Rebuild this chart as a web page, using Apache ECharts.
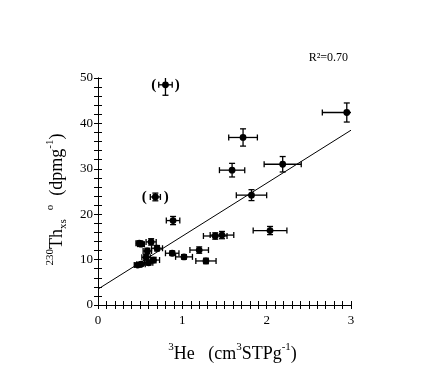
<!DOCTYPE html>
<html>
<head>
<meta charset="utf-8">
<script src="https://cdn.jsdelivr.net/npm/echarts@6/dist/echarts.min.js"></script>
<style>html,body{margin:0;padding:0;background:#fff}#c{width:425px;height:389px}</style>
</head>
<body>
<div id="c"></div>
<script>
// 3He (cm3 STP g-1)
var heValues = [0.80, 2.95, 1.72, 2.19, 1.59, 1.82, 2.04, 1.39, 1.47, 0.89, 0.68, 0.47, 0.51, 0.60, 0.66, 0.57, 0.585, 0.70, 0.63, 0.49, 0.51, 0.88, 1.02, 1.20, 1.28];
// 230Th_xs0 (dpm g-1)
var thValues = [48.5, 42.4, 36.9, 31.0, 29.7, 24.2, 16.4, 15.2, 15.4, 18.6, 23.8, 8.8, 9.0, 9.3, 9.9, 10.5, 11.9, 12.5, 13.9, 13.6, 13.4, 11.4, 10.6, 12.1, 9.7];
var heErrors = [0.08, 0.29, 0.17, 0.22, 0.15, 0.18, 0.20, 0.14, 0.14, 0.08, 0.06, 0.04, 0.05, 0.05, 0.07, 0.05, 0.05, 0.065, 0.06, 0.04, 0.04, 0.08, 0.10, 0.11, 0.12];
var thErrors = [2.3, 2.1, 1.9, 1.7, 1.5, 1.2, 0.9, 0.7, 0.8, 0.9, 0.85, 0.4, 0.4, 0.5, 0.6, 0.6, 0.6, 0.6, 0.7, 0.5, 0.5, 0.5, 0.5, 0.7, 0.6];
var excluded = [1, 0, 0, 0, 0, 0, 0, 0, 0, 0, 1, 0, 0, 0, 0, 0, 0, 0, 0, 0, 0, 0, 0, 0, 0];
// regression line end points
var fitX = [0, 3];
var fitY = [3.5, 38.5];
var xTicks = [0, 1, 2, 3];
var yTicks = [0, 10, 20, 30, 40, 50];
var r2Label = 'R²=0.70';

var FONT = '"Liberation Serif", "DejaVu Serif", serif';
var pts = heValues.map(function (x, i) {
  return [x, thValues[i], heErrors[i], thErrors[i], excluded[i]];
});
var fitData = fitX.map(function (x, i) { return [x, fitY[i]]; });

var chart = echarts.init(document.getElementById('c'));
var axisLine = {show: true, lineStyle: {color: '#000', width: 1}};
var tick = {show: true, inside: false, length: 4, lineStyle: {color: '#000'}};
var minorTick = {show: true, length: 4, lineStyle: {color: '#000'}};
var lbl = {color: '#000', fontFamily: FONT, fontSize: 13};
var sup = {fontSize: 11, fontFamily: FONT, color: '#000', verticalAlign: 'top', lineHeight: 24};
var sub = {fontSize: 11, fontFamily: FONT, color: '#000', verticalAlign: 'bottom', lineHeight: 24};
var base = {fontSize: 18, fontFamily: FONT, color: '#000', lineHeight: 24};

chart.setOption({
  animation: false,
  backgroundColor: '#fff',
  grid: {left: 98, right: 74, top: 78, bottom: 84},
  xAxis: [{
    type: 'value', min: 0, max: 3, interval: 1, position: 'bottom',
    axisLine: axisLine, axisTick: tick, minorTick: Object.assign({splitNumber: 10}, minorTick),
    splitLine: {show: false},
    axisLabel: Object.assign({margin: 9, formatter: function (v) { return xTicks.indexOf(v) >= 0 ? String(v) : ''; }}, lbl),
    name: '{s|3}{b|He   (cm}{s|3}{b|STPg}{s|-1}{b|)}',
    nameLocation: 'middle', nameGap: 37,
    nameTextStyle: {rich: {s: sup, b: base}, padding: [0, 0, 0, 16]}
  }, {
    type: 'value', min: 0, max: 3, interval: 1, position: 'top',
    axisLine: axisLine, axisTick: tick, minorTick: Object.assign({splitNumber: 10}, minorTick),
    splitLine: {show: false}, axisLabel: {show: false}
  }],
  yAxis: [{
    type: 'value', min: 0, max: 50, interval: 10, position: 'left',
    axisLine: axisLine, axisTick: tick, minorTick: Object.assign({splitNumber: 5}, minorTick),
    splitLine: {show: false},
    axisLabel: Object.assign({margin: 5, formatter: function (v) { return yTicks.indexOf(v) >= 0 ? String(v) : ''; }}, lbl),
    name: '{s|230}{b|Th}{u|xs}{b|  }{s|o}{b|  (dpmg}{s|-1}{b|)}',
    nameLocation: 'middle', nameGap: 27,
    nameTextStyle: {rich: {s: sup, u: sub, b: base}, padding: [0, 0, 0, -16]}
  }, {
    type: 'value', min: 0, max: 50, interval: 10, position: 'right',
    axisLine: axisLine, axisTick: tick, minorTick: Object.assign({splitNumber: 5}, minorTick),
    splitLine: {show: false}, axisLabel: {show: false}
  }],
  graphic: [{
    type: 'text', right: 77, top: 52,
    style: {text: r2Label, font: '12px ' + FONT, fill: '#000'}
  }],
  series: [{
    type: 'line', data: fitData, symbol: 'none', silent: true,
    lineStyle: {color: '#000', width: 1}, xAxisIndex: 0, yAxisIndex: 0
  }, {
    type: 'custom', data: pts, clip: true, xAxisIndex: 0, yAxisIndex: 0,
    renderItem: function (params, api) {
      var x = api.value(0), y = api.value(1), ex = api.value(2), ey = api.value(3), br = api.value(4);
      var c = api.coord([x, y]);
      var l = api.coord([x - ex, y]), r = api.coord([x + ex, y]);
      var t = api.coord([x, y + ey]), b = api.coord([x, y - ey]);
      var st = {stroke: '#000', lineWidth: 1.3};
      var cap = 3;
      var kids = [
        {type: 'line', shape: {x1: l[0], y1: c[1], x2: r[0], y2: c[1]}, style: st},
        {type: 'line', shape: {x1: l[0], y1: c[1] - cap, x2: l[0], y2: c[1] + cap}, style: st},
        {type: 'line', shape: {x1: r[0], y1: c[1] - cap, x2: r[0], y2: c[1] + cap}, style: st},
        {type: 'line', shape: {x1: c[0], y1: t[1], x2: c[0], y2: b[1]}, style: st},
        {type: 'line', shape: {x1: c[0] - cap, y1: t[1], x2: c[0] + cap, y2: t[1]}, style: st},
        {type: 'line', shape: {x1: c[0] - cap, y1: b[1], x2: c[0] + cap, y2: b[1]}, style: st},
        {type: 'circle', shape: {cx: c[0], cy: c[1], r: 3.4}, style: {fill: '#000'}}
      ];
      if (br) {
        var dx = Math.max(r[0] - c[0], 6) + 5;
        kids.push({type: 'text', style: {text: '(', x: c[0] - dx, y: c[1], align: 'center', verticalAlign: 'middle', font: 'bold 15px ' + FONT, fill: '#000'}});
        kids.push({type: 'text', style: {text: ')', x: c[0] + dx, y: c[1], align: 'center', verticalAlign: 'middle', font: 'bold 15px ' + FONT, fill: '#000'}});
      }
      return {type: 'group', children: kids};
    }
  }]
});
</script>
</body>
</html>
